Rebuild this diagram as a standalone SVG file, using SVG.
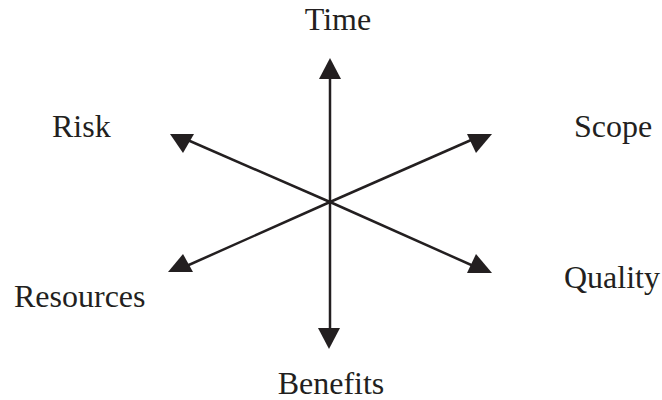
<svg xmlns="http://www.w3.org/2000/svg" width="662" height="400" viewBox="0 0 662 400">
<style>
.lbl{font-family:"Liberation Serif","Times New Roman",serif;font-size:32px;fill:#231f20}
.ln{stroke:#231f20;stroke-width:2.5;fill:none}
.hd{fill:#231f20;stroke:none}
</style>
<rect width="662" height="400" fill="#fff"/>
<g id="connectors">
<line class="ln" x1="330" y1="202" x2="330" y2="75"/>
<polygon class="hd" points="330,58 319,79 341,79"/>
<line class="ln" x1="330" y1="202" x2="330" y2="332"/>
<polygon class="hd" points="318,328 340,328 329,349"/>
<line class="ln" x1="330" y1="202" x2="183" y2="138"/>
<polygon class="hd" points="170,134 194,134 183,153"/>
<line class="ln" x1="330" y1="202" x2="478" y2="137"/>
<polygon class="hd" points="467,134 492,134 476,153"/>
<line class="ln" x1="330" y1="202" x2="182" y2="268"/>
<polygon class="hd" points="168,272 193,272 183,254"/>
<line class="ln" x1="330" y1="202" x2="478" y2="268"/>
<polygon class="hd" points="467,273 492,273 476,254"/>
</g>
<g id="time"><text class="lbl" x="338" y="30" text-anchor="middle">Time</text></g>
<g id="benefits"><text class="lbl" x="331" y="394" text-anchor="middle">Benefits</text></g>
<g id="risk"><text class="lbl" x="52" y="137">Risk</text></g>
<g id="scope"><text class="lbl" x="574" y="137">Scope</text></g>
<g id="resources"><text class="lbl" x="14" y="307">Resources</text></g>
<g id="quality"><text class="lbl" x="564" y="288">Quality</text></g>
</svg>
